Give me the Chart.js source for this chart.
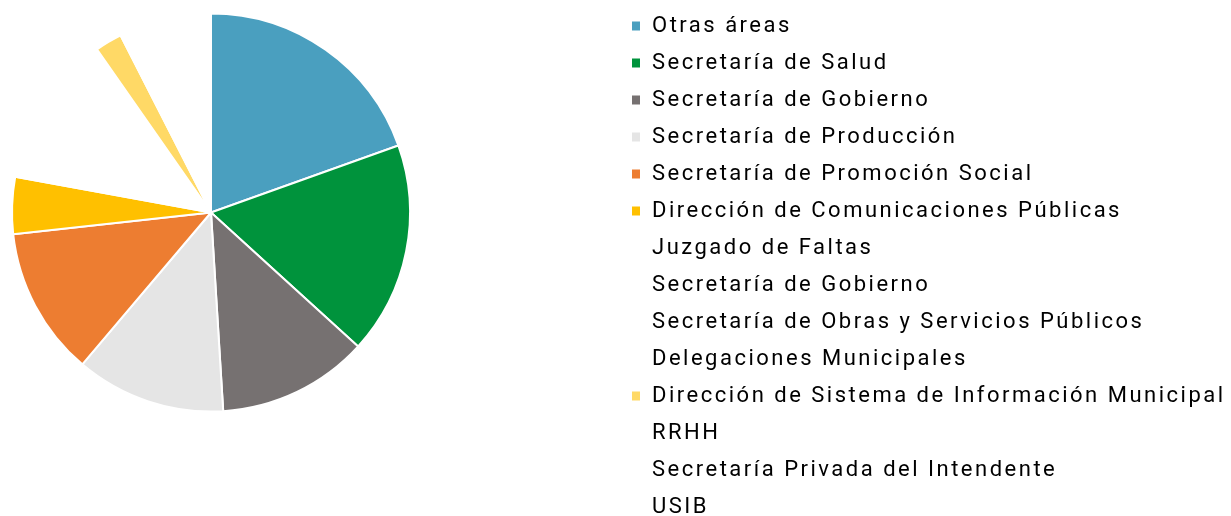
<!DOCTYPE html>
<html>
<head>
<meta charset="utf-8">
<script src="https://cdn.jsdelivr.net/npm/chart.js@4.4.1/dist/chart.umd.min.js"></script>
<style>
  html, body { margin: 0; padding: 0; background: #ffffff; }
  #wrap { position: relative; width: 1231px; height: 516px; }
</style>
</head>
<body>
<div id="wrap"><canvas id="c"></canvas></div>
<script>
const categories = [
  'Otras áreas',
  'Secretaría de Salud',
  'Secretaría de Gobierno',
  'Secretaría de Producción',
  'Secretaría de Promoción Social',
  'Dirección de Comunicaciones Públicas',
  'Juzgado de Faltas',
  'Secretaría de Gobierno',
  'Secretaría de Obras y Servicios Públicos',
  'Delegaciones Municipales',
  'Dirección de Sistema de Información Municipal',
  'RRHH',
  'Secretaría Privada del Intendente',
  'USIB'
];
const shares = [19.5, 17.2, 12.25, 12.15, 12.05, 4.6, 3.1, 3.1, 3.1, 3.1, 2.2, 2.5, 2.5, 2.5];
const sliceColors = [
  '#4A9FBF', '#00933C', '#767171', '#E5E5E5', '#ED7D31', '#FFC000',
  '#FFFFFF', '#FFFFFF', '#FFFFFF', '#FFFFFF', '#FFD966', '#FFFFFF', '#FFFFFF', '#FFFFFF'
];

const LETTER_SPACING = '2.5px';
const spacingPlugin = {
  id: 'spacing',
  beforeLayout(chart) { chart.ctx.letterSpacing = LETTER_SPACING; },
  beforeDraw(chart) { chart.ctx.letterSpacing = LETTER_SPACING; }
};
// place the pie on the left part of the canvas
const pieAreaPlugin = {
  id: 'pieArea',
  afterLayout(chart) {
    const a = chart.chartArea;
    const cx = 211, cy = 212.5, half = 200;
    a.left = cx - half; a.right = cx + half;
    a.top = cy - half; a.bottom = cy + half;
    a.width = 2 * half; a.height = 2 * half;
  }
};

new Chart(document.getElementById('c'), {
  type: 'pie',
  data: {
    labels: categories,
    datasets: [{
      data: shares,
      backgroundColor: sliceColors,
      borderColor: '#FFFFFF',
      borderWidth: 2
    }]
  },
  options: {
    responsive: true,
    maintainAspectRatio: false,
    animation: false,
    events: [],
    radius: 199,
    layout: { padding: { top: 0, bottom: -22, left: 0, right: 0 } },
    plugins: {
      tooltip: { enabled: false },
      title: { display: false },
      legend: {
        position: 'right',
        align: 'start',
        maxWidth: 615,
        labels: {
          boxWidth: 10,
          boxHeight: 11,
          padding: 15,
          color: '#000000',
          font: { family: 'Roboto', size: 22 }
        }
      }
    }
  },
  plugins: [spacingPlugin, pieAreaPlugin]
});
</script>
</body>
</html>
